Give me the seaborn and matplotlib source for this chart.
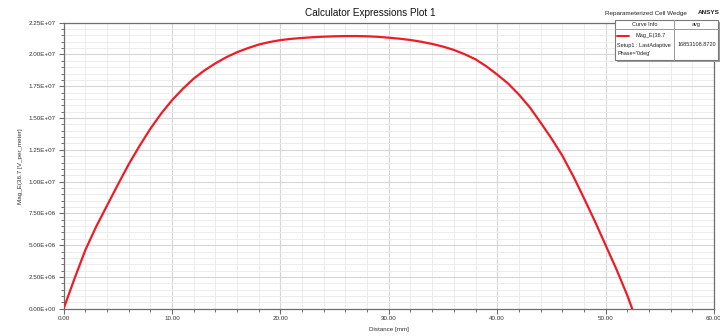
import matplotlib
matplotlib.use("Agg")
import matplotlib.pyplot as plt
from matplotlib.patches import Rectangle
from matplotlib.lines import Line2D
from matplotlib.ticker import MultipleLocator, FuncFormatter
import seaborn as sns
import pandas as pd

# Field magnitude along the sampled distance (mm, V/m)
distance_mm = [0, 1, 2, 3, 4, 5, 6, 7, 8, 9, 10, 11, 12, 13, 14, 15, 16, 17,
               18, 19, 20, 21, 22, 23, 24, 25, 26, 27, 28, 29, 30, 31, 32, 33,
               34, 35, 36, 37, 38, 39, 40, 41, 42, 43, 44, 45, 46, 47, 48, 49,
               50, 51, 52, 52.45]
mag_e = [0.0, 2.35e6, 4.6e6, 6.45e6, 8.1e6, 9.75e6, 11.35e6, 12.8e6, 14.15e6,
         15.35e6, 16.4e6, 17.3e6, 18.1e6, 18.75e6, 19.3e6, 19.78e6, 20.18e6,
         20.5e6, 20.78e6, 20.98e6, 21.13e6, 21.23e6, 21.3e6, 21.36e6, 21.4e6,
         21.43e6, 21.45e6, 21.45e6, 21.43e6, 21.39e6, 21.32e6, 21.24e6,
         21.14e6, 21.0e6, 20.83e6, 20.62e6, 20.36e6, 20.02e6, 19.62e6,
         19.07e6, 18.42e6, 17.72e6, 16.85e6, 15.85e6, 14.65e6, 13.4e6,
         12.05e6, 10.45e6, 8.7e6, 6.9e6, 5.0e6, 3.1e6, 1.05e6, 0.0]

title = "Calculator Expressions Plot 1"
project = "Reparameterized Cell Wedge"
brand = "ANSYS"
x_label = "Distance [mm]"
y_label = "Mag_E(36.7 [V_per_meter]"
curve_name = "Mag_E(36.7"
setup_name = "Setup1 : LastAdaptive"
phase_name = "Phase='0deg'"
avg_value = "16853108.8720"

W, H = 720, 336
sns.set_theme(style="white")
plt.rcParams["font.family"] = ["Liberation Sans", "DejaVu Sans"]

fig = plt.figure(figsize=(W / 100, H / 100), dpi=100)
fig.patch.set_facecolor("white")


def fx(px):
    return px / W


def fy(py):
    return 1 - py / H


left, right, top, bottom = 63.6, 714.0, 22.7, 308.7
ax = fig.add_axes([fx(left), fy(bottom), fx(right) - fx(left), fy(top) - fy(bottom)])

df = pd.DataFrame({"distance": distance_mm, "mag": mag_e})
sns.lineplot(data=df, x="distance", y="mag", ax=ax, color="#ee1c26",
             linewidth=1.6, sort=False, zorder=5)

ax.set_xlim(0, 60)
ax.set_ylim(0, 2.25e7)
ax.xaxis.set_major_locator(MultipleLocator(10))
ax.xaxis.set_minor_locator(MultipleLocator(2))
ax.yaxis.set_major_locator(MultipleLocator(2.5e6))
ax.yaxis.set_minor_locator(MultipleLocator(0.5e6))
ax.xaxis.set_major_formatter(FuncFormatter(lambda v, p: f"{v:.2f}"))
ax.yaxis.set_major_formatter(FuncFormatter(lambda v, p: f"{v:.2E}"))

ax.grid(which="major", color="#d6d6d6", linewidth=0.8)
ax.grid(which="minor", color="#ececec", linewidth=0.7)
ax.set_axisbelow(True)

for s in ax.spines.values():
    s.set_color("#6e6e6e")
    s.set_linewidth(0.9)
    s.set_visible(True)

ax.tick_params(which="major", direction="out", length=3.5, width=0.8,
               color="#6e6e6e", labelsize=4.5, labelcolor="#333333", pad=2,
               bottom=True, left=True)
ax.tick_params(which="minor", direction="out", length=2.2, width=0.7,
               color="#6e6e6e", bottom=True, left=True)

ax.set_xlabel(x_label, fontsize=4.5, color="#333333")
ax.set_ylabel(y_label, fontsize=4.5, color="#333333")
ax.xaxis.label.set_va("center")
ax.yaxis.label.set_va("center")
ax.xaxis.set_label_coords(0.5, (bottom - 329) / (bottom - top))
ax.yaxis.set_label_coords((21 - left) / (right - left), 0.5)

fig.text(fx(370), fy(12.5), title, fontsize=7.2, color="#111111",
         ha="center", va="center")
fig.text(fx(605), fy(13), project, fontsize=4.5, color="#222222",
         ha="left", va="center")
fig.text(fx(698), fy(13), brand, fontsize=4.6, color="#222222",
         ha="left", va="center", fontweight="bold")

# Curve info box
bx0, bx1, by0, by1 = 615, 718, 20, 60
col_split, head_bottom = 674, 28.5
shadow = Rectangle((fx(bx0 + 2), fy(by1 + 2)), fx(bx1) - fx(bx0), fy(by0) - fy(by1),
                   transform=fig.transFigure, facecolor="#9a9a9a",
                   edgecolor="none", zorder=9)
box = Rectangle((fx(bx0), fy(by1)), fx(bx1) - fx(bx0), fy(by0) - fy(by1),
                transform=fig.transFigure, facecolor="white",
                edgecolor="#7a7a7a", linewidth=0.8, zorder=10)
fig.patches.extend([shadow, box])
fig.lines.append(Line2D([fx(col_split)] * 2, [fy(by0), fy(by1)],
                        transform=fig.transFigure, color="#9a9a9a",
                        linewidth=0.7, zorder=11))
fig.lines.append(Line2D([fx(bx0), fx(bx1)], [fy(head_bottom)] * 2,
                        transform=fig.transFigure, color="#9a9a9a",
                        linewidth=0.7, zorder=11))
fig.lines.append(Line2D([fx(617), fx(629)], [fy(35.5)] * 2,
                        transform=fig.transFigure, color="#ee1c26",
                        linewidth=1.4, zorder=11))

tk = dict(fontsize=4.0, color="#222222", va="center", zorder=12)
fig.text(fx((bx0 + col_split) / 2), fy(24.3), "Curve Info", ha="center", **tk)
fig.text(fx((col_split + bx1) / 2), fy(24.3), "avg", ha="center", **tk)
fig.text(fx(635), fy(35.5), curve_name, ha="left", **tk)
fig.text(fx(617), fy(45), setup_name, ha="left", **tk)
fig.text(fx(617), fy(53), phase_name, ha="left", **tk)
fig.text(fx((col_split + bx1) / 2 + 0.5), fy(45), avg_value, ha="center", **tk)

fig.savefig("out.png", dpi=100)
